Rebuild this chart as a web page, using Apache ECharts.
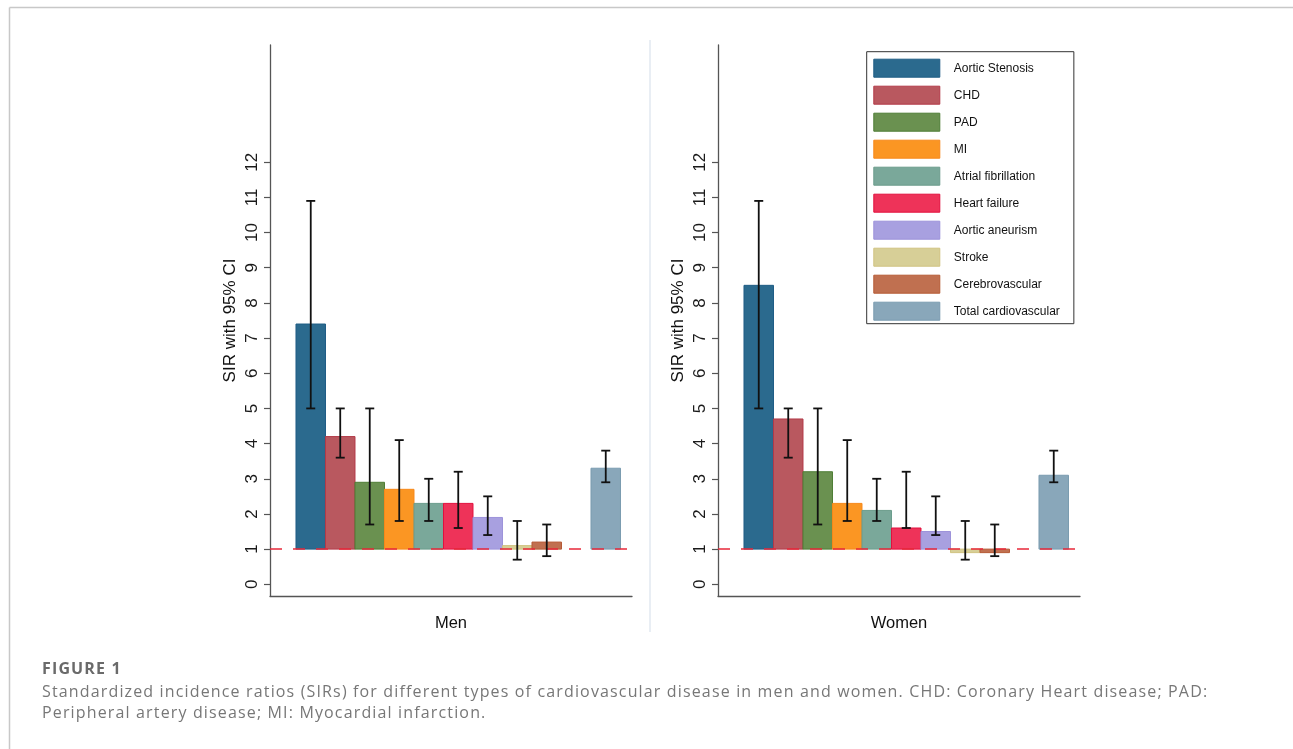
<!DOCTYPE html>
<html>
<head>
<meta charset="utf-8">
<script src="https://cdn.jsdelivr.net/npm/echarts@6/dist/echarts.min.js"></script>
<style>
  html, body { margin: 0; padding: 0; background: #fff; }
  #wrap { position: relative; width: 1293px; height: 749px; overflow: hidden; }
  #chart { position: absolute; left: 0; top: 0; width: 1293px; height: 749px; }
  #caption { position: absolute; left: 42px; top: 658px; width: 1240px;
    font-family: "Open Sans", sans-serif; font-size: 16px; line-height: 21.5px;
    letter-spacing: 1.15px; color: #777; }
  #caption .title { font-weight: bold; color: #6a6a6a; margin-bottom: 1px; }
</style>
</head>
<body>
<div id="wrap">
  <div id="chart"></div>
  <div id="caption"></div>
</div>
<script>
// ---------- data ----------
const categories = ['Aortic Stenosis', 'CHD', 'PAD', 'MI', 'Atrial fibrillation', 'Heart failure',
  'Aortic aneurism', 'Stroke', 'Cerebrovascular', 'Total cardiovascular'];
const panels = ['Men', 'Women'];
const menSIR = [7.4, 4.2, 2.9, 2.7, 2.3, 2.3, 1.9, 1.1, 1.2, 3.3];
const menLow = [5.0, 3.6, 1.7, 1.8, 1.8, 1.6, 1.4, 0.7, 0.8, 2.9];
const menHigh = [10.9, 5.0, 5.0, 4.1, 3.0, 3.2, 2.5, 1.8, 1.7, 3.8];
const womenSIR = [8.5, 4.7, 3.2, 2.3, 2.1, 1.6, 1.5, 0.9, 0.9, 3.1];
const womenLow = [5.0, 3.6, 1.7, 1.8, 1.8, 1.6, 1.4, 0.7, 0.8, 2.9];
const womenHigh = [10.9, 5.0, 5.0, 4.1, 3.0, 3.2, 2.5, 1.8, 1.7, 3.8];
const yTicks = [0, 1, 2, 3, 4, 5, 6, 7, 8, 9, 10, 11, 12];
const baseline = 1;
const yAxisTitle = 'SIR with 95% CI';
const captionTitle = 'FIGURE 1';
const captionLines = [
  'Standardized incidence ratios (SIRs) for different types of cardiovascular disease in men and women. CHD: Coronary Heart disease; PAD:',
  'Peripheral artery disease; MI: Myocardial infarction.'
];

// ---------- styles ----------
const fills = ['#2b6a8e', '#b9585f', '#6a9150', '#fb9623', '#7aa89a', '#ee3359', '#a8a0e0', '#d7cf97', '#c07050', '#89a7ba'];
const strokes = ['#1f5d85', '#b33a48', '#4e7d35', '#f7881a', '#6b9c8c', '#e2103e', '#9c92da', '#d0c380', '#b55a35', '#7a9bb0'];
const FONT = '"Liberation Sans", Arial, sans-serif';

// caption (real text)
(function () {
  const cap = document.getElementById('caption');
  const t = document.createElement('div');
  t.className = 'title';
  t.textContent = captionTitle;
  cap.appendChild(t);
  captionLines.forEach(s => { const d = document.createElement('div'); d.textContent = s; cap.appendChild(d); });
})();

// slot position: the total gets an empty slot before it
function slotOf(i) { return categories[i] === 'Total cardiovascular' ? i + 1 : i; }

const values = [[menSIR, menLow, menHigh], [womenSIR, womenLow, womenHigh]];
const gridLefts = [270, 718];

const grids = [], xAxes = [], yAxes = [], series = [];
panels.forEach((pname, p) => {
  grids.push({ left: gridLefts[p], top: 45, width: 362, height: 551 });
  xAxes.push({
    type: 'value', gridIndex: p, min: -1.381, max: 10.89,
    name: pname, nameLocation: 'middle', nameGap: 19,
    nameTextStyle: { fontFamily: FONT, fontSize: 16.5, color: '#111' },
    axisLine: { show: true, onZero: false, lineStyle: { color: '#555', width: 1.3 } },
    axisTick: { show: false }, axisLabel: { show: false }, splitLine: { show: false }
  });
  yAxes.push({
    type: 'value', gridIndex: p, min: -0.333, max: 15.333,
    name: yAxisTitle, nameLocation: 'middle', nameGap: 31, nameRotate: 90,
    nameTextStyle: { fontFamily: FONT, fontSize: 17, color: '#111' },
    axisLine: { show: true, onZero: false, lineStyle: { color: '#555', width: 1.3 } },
    axisTick: { show: true, length: 6, customValues: yTicks, lineStyle: { color: '#555', width: 1.2 } },
    axisLabel: { show: true, rotate: 90, margin: 9, customValues: yTicks, fontFamily: FONT, fontSize: 17, color: '#1a1a1a' },
    splitLine: { show: false }
  });
  const [sir, lo, hi] = values[p];
  categories.forEach((c, i) => {
    series.push({
      type: 'custom', name: c, xAxisIndex: p, yAxisIndex: p, z: 2,
      itemStyle: { color: fills[i], borderColor: strokes[i] },
      data: [[slotOf(i), sir[i]]],
      renderItem: function (params, api) {
        const x = api.value(0), v = api.value(1);
        const a = api.coord([x - 0.5, baseline]);
        const b = api.coord([x + 0.5, v]);
        return {
          type: 'rect',
          shape: { x: a[0], y: Math.min(a[1], b[1]), width: b[0] - a[0], height: Math.abs(a[1] - b[1]) },
          style: { fill: fills[i], stroke: strokes[i], lineWidth: 1 }
        };
      }
    });
  });
  series.push({
    type: 'custom', xAxisIndex: p, yAxisIndex: p, z: 4,
    data: categories.map((c, i) => [slotOf(i), lo[i], hi[i]]),
    renderItem: function (params, api) {
      const x = api.value(0);
      const l = api.coord([x, api.value(1)]);
      const h = api.coord([x, api.value(2)]);
      const cap = 4.5;
      const st = { stroke: '#111', lineWidth: 1.8 };
      return {
        type: 'group',
        children: [
          { type: 'line', shape: { x1: l[0], y1: l[1], x2: h[0], y2: h[1] }, style: st },
          { type: 'line', shape: { x1: l[0] - cap, y1: l[1], x2: l[0] + cap, y2: l[1] }, style: st },
          { type: 'line', shape: { x1: h[0] - cap, y1: h[1], x2: h[0] + cap, y2: h[1] }, style: st }
        ]
      };
    },
    markLine: {
      silent: true, symbol: 'none', z: 3,
      label: { show: false },
      lineStyle: { type: [12, 11], color: '#e8283a', width: 1.5 },
      data: [{ yAxis: baseline }]
    }
  });
});

const chart = echarts.init(document.getElementById('chart'), null, { renderer: 'canvas' });
chart.setOption({
  animation: false,
  backgroundColor: '#fff',
  grid: grids, xAxis: xAxes, yAxis: yAxes, series: series,
  legend: {
    orient: 'vertical', left: 866.7, top: 51.7,
    padding: [7, 14, 3, 6.6],
    itemWidth: 66, itemHeight: 18, itemGap: 8,
    icon: 'rect', selectedMode: false,
    borderColor: '#333', borderWidth: 1,
    textStyle: { fontFamily: FONT, fontSize: 12, color: '#111', padding: [0, 0, 0, 9] },
    data: categories.map((c, i) => ({ name: c, itemStyle: { color: fills[i], borderColor: strokes[i], borderWidth: 1 } }))
  },
  graphic: [
    { type: 'line', shape: { x1: 9.5, y1: 7.5, x2: 1293, y2: 7.5 }, style: { stroke: '#c8c8c8', lineWidth: 1.5 } },
    { type: 'line', shape: { x1: 9.5, y1: 7.5, x2: 9.5, y2: 749 }, style: { stroke: '#c8c8c8', lineWidth: 1.5 } },
    { type: 'line', shape: { x1: 650, y1: 40, x2: 650, y2: 632 }, style: { stroke: '#e2e9f0', lineWidth: 1.5 } }
  ]
});
</script>
</body>
</html>
